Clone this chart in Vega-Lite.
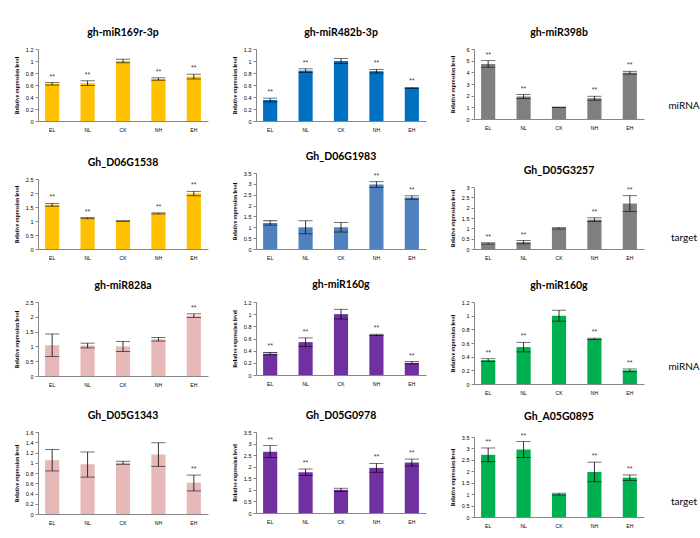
{
"$schema": "https://vega.github.io/schema/vega-lite/v6.json",
"padding": {"left": 14, "top": 27, "right": 0, "bottom": 0},
"background": "#ffffff",
"datasets": {"d": [
{"p":"A1","g":"EL","v":0.62,"lo":0.60,"hi":0.64,"s":"**"},
{"p":"A1","g":"NL","v":0.63,"lo":0.59,"hi":0.67,"s":"**"},
{"p":"A1","g":"CK","v":1.0,"lo":0.97,"hi":1.03,"s":""},
{"p":"A1","g":"NH","v":0.70,"lo":0.68,"hi":0.72,"s":"**"},
{"p":"A1","g":"EH","v":0.74,"lo":0.70,"hi":0.78,"s":"**"},
{"p":"A2","g":"EL","v":1.58,"lo":1.53,"hi":1.63,"s":"**"},
{"p":"A2","g":"NL","v":1.10,"lo":1.08,"hi":1.12,"s":"**"},
{"p":"A2","g":"CK","v":1.0,"lo":0.99,"hi":1.01,"s":""},
{"p":"A2","g":"NH","v":1.27,"lo":1.25,"hi":1.29,"s":"**"},
{"p":"A2","g":"EH","v":1.98,"lo":1.90,"hi":2.06,"s":"**"},
{"p":"B1","g":"EL","v":0.35,"lo":0.32,"hi":0.38,"s":"**"},
{"p":"B1","g":"NL","v":0.84,"lo":0.81,"hi":0.87,"s":"**"},
{"p":"B1","g":"CK","v":1.0,"lo":0.96,"hi":1.04,"s":""},
{"p":"B1","g":"NH","v":0.83,"lo":0.80,"hi":0.86,"s":"**"},
{"p":"B1","g":"EH","v":0.55,"lo":0.54,"hi":0.56,"s":"**"},
{"p":"B2","g":"EL","v":1.2,"lo":1.1,"hi":1.3,"s":""},
{"p":"B2","g":"NL","v":1.0,"lo":0.7,"hi":1.3,"s":""},
{"p":"B2","g":"CK","v":1.0,"lo":0.78,"hi":1.22,"s":""},
{"p":"B2","g":"NH","v":2.97,"lo":2.84,"hi":3.1,"s":"**"},
{"p":"B2","g":"EH","v":2.37,"lo":2.29,"hi":2.45,"s":"**"},
{"p":"C1","g":"EL","v":4.72,"lo":4.44,"hi":5.0,"s":"**"},
{"p":"C1","g":"NL","v":1.93,"lo":1.76,"hi":2.1,"s":"**"},
{"p":"C1","g":"CK","v":1.0,"lo":0.98,"hi":1.02,"s":""},
{"p":"C1","g":"NH","v":1.78,"lo":1.61,"hi":1.95,"s":"**"},
{"p":"C1","g":"EH","v":3.97,"lo":3.85,"hi":4.09,"s":"**"},
{"p":"C2","g":"EL","v":0.27,"lo":0.24,"hi":0.30,"s":"**"},
{"p":"C2","g":"NL","v":0.33,"lo":0.25,"hi":0.41,"s":"**"},
{"p":"C2","g":"CK","v":1.0,"lo":0.97,"hi":1.03,"s":""},
{"p":"C2","g":"NH","v":1.42,"lo":1.33,"hi":1.51,"s":"**"},
{"p":"C2","g":"EH","v":2.2,"lo":1.82,"hi":2.58,"s":"**"},
{"p":"D1","g":"EL","v":1.04,"lo":0.66,"hi":1.42,"s":""},
{"p":"D1","g":"NL","v":1.03,"lo":0.95,"hi":1.11,"s":""},
{"p":"D1","g":"CK","v":1.0,"lo":0.83,"hi":1.17,"s":""},
{"p":"D1","g":"NH","v":1.24,"lo":1.18,"hi":1.30,"s":""},
{"p":"D1","g":"EH","v":2.04,"lo":1.98,"hi":2.10,"s":"**"},
{"p":"D2","g":"EL","v":1.05,"lo":0.84,"hi":1.26,"s":""},
{"p":"D2","g":"NL","v":0.97,"lo":0.72,"hi":1.21,"s":""},
{"p":"D2","g":"CK","v":1.0,"lo":0.97,"hi":1.03,"s":""},
{"p":"D2","g":"NH","v":1.16,"lo":0.93,"hi":1.39,"s":""},
{"p":"D2","g":"EH","v":0.61,"lo":0.45,"hi":0.76,"s":"**"},
{"p":"E1","g":"EL","v":0.35,"lo":0.33,"hi":0.37,"s":"**"},
{"p":"E1","g":"NL","v":0.54,"lo":0.47,"hi":0.61,"s":"**"},
{"p":"E1","g":"CK","v":1.0,"lo":0.92,"hi":1.08,"s":""},
{"p":"E1","g":"NH","v":0.66,"lo":0.65,"hi":0.67,"s":"**"},
{"p":"E1","g":"EH","v":0.20,"lo":0.18,"hi":0.22,"s":"**"},
{"p":"E2","g":"EL","v":2.65,"lo":2.39,"hi":2.91,"s":"**"},
{"p":"E2","g":"NL","v":1.76,"lo":1.62,"hi":1.90,"s":"**"},
{"p":"E2","g":"CK","v":1.0,"lo":0.93,"hi":1.07,"s":""},
{"p":"E2","g":"NH","v":1.95,"lo":1.76,"hi":2.14,"s":"**"},
{"p":"E2","g":"EH","v":2.18,"lo":2.03,"hi":2.33,"s":"**"},
{"p":"F1","g":"EL","v":0.35,"lo":0.33,"hi":0.37,"s":"**"},
{"p":"F1","g":"NL","v":0.54,"lo":0.47,"hi":0.61,"s":"**"},
{"p":"F1","g":"CK","v":1.0,"lo":0.92,"hi":1.08,"s":""},
{"p":"F1","g":"NH","v":0.66,"lo":0.65,"hi":0.67,"s":"**"},
{"p":"F1","g":"EH","v":0.20,"lo":0.18,"hi":0.22,"s":"**"},
{"p":"F2","g":"EL","v":2.72,"lo":2.42,"hi":3.02,"s":"**"},
{"p":"F2","g":"NL","v":2.95,"lo":2.60,"hi":3.30,"s":"**"},
{"p":"F2","g":"CK","v":1.0,"lo":0.96,"hi":1.04,"s":""},
{"p":"F2","g":"NH","v":1.97,"lo":1.54,"hi":2.40,"s":"**"},
{"p":"F2","g":"EH","v":1.72,"lo":1.60,"hi":1.84,"s":"**"}
]},
"spacing": -7,
"vconcat": [
{"spacing": 24, "hconcat": [
 {"spacing": 25, "vconcat": [
  {"title":"gh-miR169r-3p","width":170,"height":72,"data":{"name":"d"},"transform":[{"filter":"datum.p=='A1'"}],
   "encoding":{"x":{"field":"g","type":"nominal","sort":null}},
   "layer":[
    {"mark":{"type":"bar","color":"#FFC000"},"encoding":{"y":{"field":"v","type":"quantitative","title":"Relative expression level","scale":{"domain":[0,1.2],"nice":false},"axis":{"values":[0,0.2,0.4,0.6,0.8,1,1.2],"format":"~g"}}}},
    {"mark":"rule","encoding":{"y":{"field":"lo","type":"quantitative","title":"Relative expression level","scale":{"domain":[0,1.2],"nice":false},"axis":{"values":[0,0.2,0.4,0.6,0.8,1,1.2],"format":"~g"}},"y2":{"field":"hi"}}},
    {"mark":"tick","encoding":{"y":{"field":"lo","type":"quantitative","title":"Relative expression level","scale":{"domain":[0,1.2],"nice":false},"axis":{"values":[0,0.2,0.4,0.6,0.8,1,1.2],"format":"~g"}}}},
    {"mark":"tick","encoding":{"y":{"field":"hi","type":"quantitative","title":"Relative expression level","scale":{"domain":[0,1.2],"nice":false},"axis":{"values":[0,0.2,0.4,0.6,0.8,1,1.2],"format":"~g"}}}},
    {"mark":"text","encoding":{"y":{"field":"hi","type":"quantitative","title":"Relative expression level","scale":{"domain":[0,1.2],"nice":false},"axis":{"values":[0,0.2,0.4,0.6,0.8,1,1.2],"format":"~g"}},"text":{"field":"s"}}}
   ]},
  {"title":"Gh_D06G1538","width":170,"height":70,"data":{"name":"d"},"transform":[{"filter":"datum.p=='A2'"}],
   "encoding":{"x":{"field":"g","type":"nominal","sort":null}},
   "layer":[
    {"mark":{"type":"bar","color":"#FFC000"},"encoding":{"y":{"field":"v","type":"quantitative","title":"Relative expression level","scale":{"domain":[0,2.5],"nice":false},"axis":{"values":[0,0.5,1,1.5,2,2.5],"format":"~g"}}}},
    {"mark":"rule","encoding":{"y":{"field":"lo","type":"quantitative","title":"Relative expression level","scale":{"domain":[0,2.5],"nice":false},"axis":{"values":[0,0.5,1,1.5,2,2.5],"format":"~g"}},"y2":{"field":"hi"}}},
    {"mark":"tick","encoding":{"y":{"field":"lo","type":"quantitative","title":"Relative expression level","scale":{"domain":[0,2.5],"nice":false},"axis":{"values":[0,0.5,1,1.5,2,2.5],"format":"~g"}}}},
    {"mark":"tick","encoding":{"y":{"field":"hi","type":"quantitative","title":"Relative expression level","scale":{"domain":[0,2.5],"nice":false},"axis":{"values":[0,0.5,1,1.5,2,2.5],"format":"~g"}}}},
    {"mark":"text","encoding":{"y":{"field":"hi","type":"quantitative","title":"Relative expression level","scale":{"domain":[0,2.5],"nice":false},"axis":{"values":[0,0.5,1,1.5,2,2.5],"format":"~g"}},"text":{"field":"s"}}}
   ]}
 ]},
 {"spacing": 19, "vconcat": [
  {"title":"gh-miR482b-3p","width":170,"height":72,"data":{"name":"d"},"transform":[{"filter":"datum.p=='B1'"}],
   "encoding":{"x":{"field":"g","type":"nominal","sort":null}},
   "layer":[
    {"mark":{"type":"bar","color":"#0070C0"},"encoding":{"y":{"field":"v","type":"quantitative","title":"Relative expression level","scale":{"domain":[0,1.2],"nice":false},"axis":{"values":[0,0.2,0.4,0.6,0.8,1,1.2],"format":"~g"}}}},
    {"mark":"rule","encoding":{"y":{"field":"lo","type":"quantitative","title":"Relative expression level","scale":{"domain":[0,1.2],"nice":false},"axis":{"values":[0,0.2,0.4,0.6,0.8,1,1.2],"format":"~g"}},"y2":{"field":"hi"}}},
    {"mark":"tick","encoding":{"y":{"field":"lo","type":"quantitative","title":"Relative expression level","scale":{"domain":[0,1.2],"nice":false},"axis":{"values":[0,0.2,0.4,0.6,0.8,1,1.2],"format":"~g"}}}},
    {"mark":"tick","encoding":{"y":{"field":"hi","type":"quantitative","title":"Relative expression level","scale":{"domain":[0,1.2],"nice":false},"axis":{"values":[0,0.2,0.4,0.6,0.8,1,1.2],"format":"~g"}}}},
    {"mark":"text","encoding":{"y":{"field":"hi","type":"quantitative","title":"Relative expression level","scale":{"domain":[0,1.2],"nice":false},"axis":{"values":[0,0.2,0.4,0.6,0.8,1,1.2],"format":"~g"}},"text":{"field":"s"}}}
   ]},
  {"title":"Gh_D06G1983","width":170,"height":76,"data":{"name":"d"},"transform":[{"filter":"datum.p=='B2'"}],
   "encoding":{"x":{"field":"g","type":"nominal","sort":null}},
   "layer":[
    {"mark":{"type":"bar","color":"#4F81BD"},"encoding":{"y":{"field":"v","type":"quantitative","title":"Relative expression level","scale":{"domain":[0,3.5],"nice":false},"axis":{"values":[0,0.5,1,1.5,2,2.5,3,3.5],"format":"~g"}}}},
    {"mark":"rule","encoding":{"y":{"field":"lo","type":"quantitative","title":"Relative expression level","scale":{"domain":[0,3.5],"nice":false},"axis":{"values":[0,0.5,1,1.5,2,2.5,3,3.5],"format":"~g"}},"y2":{"field":"hi"}}},
    {"mark":"tick","encoding":{"y":{"field":"lo","type":"quantitative","title":"Relative expression level","scale":{"domain":[0,3.5],"nice":false},"axis":{"values":[0,0.5,1,1.5,2,2.5,3,3.5],"format":"~g"}}}},
    {"mark":"tick","encoding":{"y":{"field":"hi","type":"quantitative","title":"Relative expression level","scale":{"domain":[0,3.5],"nice":false},"axis":{"values":[0,0.5,1,1.5,2,2.5,3,3.5],"format":"~g"}}}},
    {"mark":"text","encoding":{"y":{"field":"hi","type":"quantitative","title":"Relative expression level","scale":{"domain":[0,3.5],"nice":false},"axis":{"values":[0,0.5,1,1.5,2,2.5,3,3.5],"format":"~g"}},"text":{"field":"s"}}}
   ]}
 ]},
 {"spacing": 35, "vconcat": [
  {"title":"gh-miR398b","width":170,"height":70,"data":{"name":"d"},"transform":[{"filter":"datum.p=='C1'"}],
   "encoding":{"x":{"field":"g","type":"nominal","sort":null}},
   "layer":[
    {"mark":{"type":"bar","color":"#7F7F7F"},"encoding":{"y":{"field":"v","type":"quantitative","title":"Relative expression level","scale":{"domain":[0,6],"nice":false},"axis":{"values":[0,1,2,3,4,5,6],"format":"~g"}}}},
    {"mark":"rule","encoding":{"y":{"field":"lo","type":"quantitative","title":"Relative expression level","scale":{"domain":[0,6],"nice":false},"axis":{"values":[0,1,2,3,4,5,6],"format":"~g"}},"y2":{"field":"hi"}}},
    {"mark":"tick","encoding":{"y":{"field":"lo","type":"quantitative","title":"Relative expression level","scale":{"domain":[0,6],"nice":false},"axis":{"values":[0,1,2,3,4,5,6],"format":"~g"}}}},
    {"mark":"tick","encoding":{"y":{"field":"hi","type":"quantitative","title":"Relative expression level","scale":{"domain":[0,6],"nice":false},"axis":{"values":[0,1,2,3,4,5,6],"format":"~g"}}}},
    {"mark":"text","encoding":{"y":{"field":"hi","type":"quantitative","title":"Relative expression level","scale":{"domain":[0,6],"nice":false},"axis":{"values":[0,1,2,3,4,5,6],"format":"~g"}},"text":{"field":"s"}}}
   ]},
  {"title":"Gh_D05G3257","width":170,"height":62,"data":{"name":"d"},"transform":[{"filter":"datum.p=='C2'"}],
   "encoding":{"x":{"field":"g","type":"nominal","sort":null}},
   "layer":[
    {"mark":{"type":"bar","color":"#7F7F7F"},"encoding":{"y":{"field":"v","type":"quantitative","title":"Relative expression level","scale":{"domain":[0,3],"nice":false},"axis":{"values":[0,0.5,1,1.5,2,2.5,3],"format":"~g"}}}},
    {"mark":"rule","encoding":{"y":{"field":"lo","type":"quantitative","title":"Relative expression level","scale":{"domain":[0,3],"nice":false},"axis":{"values":[0,0.5,1,1.5,2,2.5,3],"format":"~g"}},"y2":{"field":"hi"}}},
    {"mark":"tick","encoding":{"y":{"field":"lo","type":"quantitative","title":"Relative expression level","scale":{"domain":[0,3],"nice":false},"axis":{"values":[0,0.5,1,1.5,2,2.5,3],"format":"~g"}}}},
    {"mark":"tick","encoding":{"y":{"field":"hi","type":"quantitative","title":"Relative expression level","scale":{"domain":[0,3],"nice":false},"axis":{"values":[0,0.5,1,1.5,2,2.5,3],"format":"~g"}}}},
    {"mark":"text","encoding":{"y":{"field":"hi","type":"quantitative","title":"Relative expression level","scale":{"domain":[0,3],"nice":false},"axis":{"values":[0,0.5,1,1.5,2,2.5,3],"format":"~g"}},"text":{"field":"s"}}}
   ]}
 ]},
 {"spacing": 27, "vconcat": [
  {"width":20,"height":114,"data":{"values":[{"t":"miRNA"}]},"mark":{"type":"text","font":"Lato","fontSize":10,"baseline":"middle","dy":0,"color":"#000"},"encoding":{"text":{"field":"t"}}},
  {"width":20,"height":96,"data":{"values":[{"t":"target"}]},"mark":{"type":"text","font":"Lato","fontSize":10,"baseline":"middle","dy":0,"color":"#000"},"encoding":{"text":{"field":"t"}}}
 ]}
]},
{"spacing": 24, "hconcat": [
 {"spacing": 23, "vconcat": [
  {"title":"gh-miR828a","width":170,"height":74,"data":{"name":"d"},"transform":[{"filter":"datum.p=='D1'"}],
   "encoding":{"x":{"field":"g","type":"nominal","sort":null}},
   "layer":[
    {"mark":{"type":"bar","color":"#E6B9B8"},"encoding":{"y":{"field":"v","type":"quantitative","title":"Relative expression level","scale":{"domain":[0,2.5],"nice":false},"axis":{"values":[0,0.5,1,1.5,2,2.5],"format":"~g"}}}},
    {"mark":"rule","encoding":{"y":{"field":"lo","type":"quantitative","title":"Relative expression level","scale":{"domain":[0,2.5],"nice":false},"axis":{"values":[0,0.5,1,1.5,2,2.5],"format":"~g"}},"y2":{"field":"hi"}}},
    {"mark":"tick","encoding":{"y":{"field":"lo","type":"quantitative","title":"Relative expression level","scale":{"domain":[0,2.5],"nice":false},"axis":{"values":[0,0.5,1,1.5,2,2.5],"format":"~g"}}}},
    {"mark":"tick","encoding":{"y":{"field":"hi","type":"quantitative","title":"Relative expression level","scale":{"domain":[0,2.5],"nice":false},"axis":{"values":[0,0.5,1,1.5,2,2.5],"format":"~g"}}}},
    {"mark":"text","encoding":{"y":{"field":"hi","type":"quantitative","title":"Relative expression level","scale":{"domain":[0,2.5],"nice":false},"axis":{"values":[0,0.5,1,1.5,2,2.5],"format":"~g"}},"text":{"field":"s"}}}
   ]},
  {"title":"Gh_D05G1343","width":170,"height":82,"data":{"name":"d"},"transform":[{"filter":"datum.p=='D2'"}],
   "encoding":{"x":{"field":"g","type":"nominal","sort":null}},
   "layer":[
    {"mark":{"type":"bar","color":"#E6B9B8"},"encoding":{"y":{"field":"v","type":"quantitative","title":"Relative expression level","scale":{"domain":[0,1.6],"nice":false},"axis":{"values":[0,0.2,0.4,0.6,0.8,1,1.2,1.4,1.6],"format":"~g"}}}},
    {"mark":"rule","encoding":{"y":{"field":"lo","type":"quantitative","title":"Relative expression level","scale":{"domain":[0,1.6],"nice":false},"axis":{"values":[0,0.2,0.4,0.6,0.8,1,1.2,1.4,1.6],"format":"~g"}},"y2":{"field":"hi"}}},
    {"mark":"tick","encoding":{"y":{"field":"lo","type":"quantitative","title":"Relative expression level","scale":{"domain":[0,1.6],"nice":false},"axis":{"values":[0,0.2,0.4,0.6,0.8,1,1.2,1.4,1.6],"format":"~g"}}}},
    {"mark":"tick","encoding":{"y":{"field":"hi","type":"quantitative","title":"Relative expression level","scale":{"domain":[0,1.6],"nice":false},"axis":{"values":[0,0.2,0.4,0.6,0.8,1,1.2,1.4,1.6],"format":"~g"}}}},
    {"mark":"text","encoding":{"y":{"field":"hi","type":"quantitative","title":"Relative expression level","scale":{"domain":[0,1.6],"nice":false},"axis":{"values":[0,0.2,0.4,0.6,0.8,1,1.2,1.4,1.6],"format":"~g"}},"text":{"field":"s"}}}
   ]}
 ]},
 {"spacing": 24, "vconcat": [
  {"title":"gh-miR160g","width":170,"height":73,"data":{"name":"d"},"transform":[{"filter":"datum.p=='E1'"}],
   "encoding":{"x":{"field":"g","type":"nominal","sort":null}},
   "layer":[
    {"mark":{"type":"bar","color":"#7030A0"},"encoding":{"y":{"field":"v","type":"quantitative","title":"Relative expression level","scale":{"domain":[0,1.2],"nice":false},"axis":{"values":[0,0.2,0.4,0.6,0.8,1,1.2],"format":"~g"}}}},
    {"mark":"rule","encoding":{"y":{"field":"lo","type":"quantitative","title":"Relative expression level","scale":{"domain":[0,1.2],"nice":false},"axis":{"values":[0,0.2,0.4,0.6,0.8,1,1.2],"format":"~g"}},"y2":{"field":"hi"}}},
    {"mark":"tick","encoding":{"y":{"field":"lo","type":"quantitative","title":"Relative expression level","scale":{"domain":[0,1.2],"nice":false},"axis":{"values":[0,0.2,0.4,0.6,0.8,1,1.2],"format":"~g"}}}},
    {"mark":"tick","encoding":{"y":{"field":"hi","type":"quantitative","title":"Relative expression level","scale":{"domain":[0,1.2],"nice":false},"axis":{"values":[0,0.2,0.4,0.6,0.8,1,1.2],"format":"~g"}}}},
    {"mark":"text","encoding":{"y":{"field":"hi","type":"quantitative","title":"Relative expression level","scale":{"domain":[0,1.2],"nice":false},"axis":{"values":[0,0.2,0.4,0.6,0.8,1,1.2],"format":"~g"}},"text":{"field":"s"}}}
   ]},
  {"title":"Gh_D05G0978","width":170,"height":81,"data":{"name":"d"},"transform":[{"filter":"datum.p=='E2'"}],
   "encoding":{"x":{"field":"g","type":"nominal","sort":null}},
   "layer":[
    {"mark":{"type":"bar","color":"#7030A0"},"encoding":{"y":{"field":"v","type":"quantitative","title":"Relative expression level","scale":{"domain":[0,3.5],"nice":false},"axis":{"values":[0,0.5,1,1.5,2,2.5,3,3.5],"format":"~g"}}}},
    {"mark":"rule","encoding":{"y":{"field":"lo","type":"quantitative","title":"Relative expression level","scale":{"domain":[0,3.5],"nice":false},"axis":{"values":[0,0.5,1,1.5,2,2.5,3,3.5],"format":"~g"}},"y2":{"field":"hi"}}},
    {"mark":"tick","encoding":{"y":{"field":"lo","type":"quantitative","title":"Relative expression level","scale":{"domain":[0,3.5],"nice":false},"axis":{"values":[0,0.5,1,1.5,2,2.5,3,3.5],"format":"~g"}}}},
    {"mark":"tick","encoding":{"y":{"field":"hi","type":"quantitative","title":"Relative expression level","scale":{"domain":[0,3.5],"nice":false},"axis":{"values":[0,0.5,1,1.5,2,2.5,3,3.5],"format":"~g"}}}},
    {"mark":"text","encoding":{"y":{"field":"hi","type":"quantitative","title":"Relative expression level","scale":{"domain":[0,3.5],"nice":false},"axis":{"values":[0,0.5,1,1.5,2,2.5,3,3.5],"format":"~g"}},"text":{"field":"s"}}}
   ]}
 ]},
 {"spacing": 17, "vconcat": [
  {"title":"gh-miR160g","width":170,"height":82,"data":{"name":"d"},"transform":[{"filter":"datum.p=='F1'"}],
   "encoding":{"x":{"field":"g","type":"nominal","sort":null}},
   "layer":[
    {"mark":{"type":"bar","color":"#00B050"},"encoding":{"y":{"field":"v","type":"quantitative","title":"Relative expression level","scale":{"domain":[0,1.2],"nice":false},"axis":{"values":[0,0.2,0.4,0.6,0.8,1,1.2],"format":"~g"}}}},
    {"mark":"rule","encoding":{"y":{"field":"lo","type":"quantitative","title":"Relative expression level","scale":{"domain":[0,1.2],"nice":false},"axis":{"values":[0,0.2,0.4,0.6,0.8,1,1.2],"format":"~g"}},"y2":{"field":"hi"}}},
    {"mark":"tick","encoding":{"y":{"field":"lo","type":"quantitative","title":"Relative expression level","scale":{"domain":[0,1.2],"nice":false},"axis":{"values":[0,0.2,0.4,0.6,0.8,1,1.2],"format":"~g"}}}},
    {"mark":"tick","encoding":{"y":{"field":"hi","type":"quantitative","title":"Relative expression level","scale":{"domain":[0,1.2],"nice":false},"axis":{"values":[0,0.2,0.4,0.6,0.8,1,1.2],"format":"~g"}}}},
    {"mark":"text","encoding":{"y":{"field":"hi","type":"quantitative","title":"Relative expression level","scale":{"domain":[0,1.2],"nice":false},"axis":{"values":[0,0.2,0.4,0.6,0.8,1,1.2],"format":"~g"}},"text":{"field":"s"}}}
   ]},
  {"title":"Gh_A05G0895","width":170,"height":80,"data":{"name":"d"},"transform":[{"filter":"datum.p=='F2'"}],
   "encoding":{"x":{"field":"g","type":"nominal","sort":null}},
   "layer":[
    {"mark":{"type":"bar","color":"#00B050"},"encoding":{"y":{"field":"v","type":"quantitative","title":"Relative expression level","scale":{"domain":[0,3.5],"nice":false},"axis":{"values":[0,0.5,1,1.5,2,2.5,3,3.5],"format":"~g"}}}},
    {"mark":"rule","encoding":{"y":{"field":"lo","type":"quantitative","title":"Relative expression level","scale":{"domain":[0,3.5],"nice":false},"axis":{"values":[0,0.5,1,1.5,2,2.5,3,3.5],"format":"~g"}},"y2":{"field":"hi"}}},
    {"mark":"tick","encoding":{"y":{"field":"lo","type":"quantitative","title":"Relative expression level","scale":{"domain":[0,3.5],"nice":false},"axis":{"values":[0,0.5,1,1.5,2,2.5,3,3.5],"format":"~g"}}}},
    {"mark":"tick","encoding":{"y":{"field":"hi","type":"quantitative","title":"Relative expression level","scale":{"domain":[0,3.5],"nice":false},"axis":{"values":[0,0.5,1,1.5,2,2.5,3,3.5],"format":"~g"}}}},
    {"mark":"text","encoding":{"y":{"field":"hi","type":"quantitative","title":"Relative expression level","scale":{"domain":[0,3.5],"nice":false},"axis":{"values":[0,0.5,1,1.5,2,2.5,3,3.5],"format":"~g"}},"text":{"field":"s"}}}
   ]}
 ]},
 {"spacing": 22, "vconcat": [
  {"width":20,"height":130,"data":{"values":[{"t":"miRNA"}]},"mark":{"type":"text","font":"Lato","fontSize":10,"baseline":"middle","dy":0,"color":"#000"},"encoding":{"text":{"field":"t"}}},
  {"width":20,"height":96,"data":{"values":[{"t":"target"}]},"mark":{"type":"text","font":"Lato","fontSize":10,"baseline":"middle","dy":0,"color":"#000"},"encoding":{"text":{"field":"t"}}}
 ]}
]}
],
"config": {
 "view": {"stroke": null},
 "scale": {"bandPaddingInner": 0.6, "bandPaddingOuter": 0.2},
 "title": {"font": "Lato", "fontSize": 10.5, "fontWeight": "bold", "offset": 9, "color": "#000"},
 "axis": {"grid": false, "domainColor": "#868686", "tickColor": "#868686", "labelColor": "#000", "labelFont": "Liberation Sans"},
 "axisX": {"ticks": false, "tickSize": 0, "labelPadding": 6, "labelFontSize": 5, "labelAngle": 0, "title": null},
 "axisY": {"tickSize": 3, "labelPadding": 2, "labelFontSize": 5.5, "minExtent": 15, "maxExtent": 15, "titlePadding": 4, "titleFont": "Liberation Serif", "titleFontSize": 5.5, "titleFontWeight": "bold", "titleColor": "#000", "labelOverlap": false},
 "rule": {"color": "#000", "strokeWidth": 0.8},
 "tick": {"color": "#000", "thickness": 0.8, "bandSize": 4},
 "text": {"baseline": "bottom", "dy": -3, "fontSize": 7, "color": "#404040"}
}
}
